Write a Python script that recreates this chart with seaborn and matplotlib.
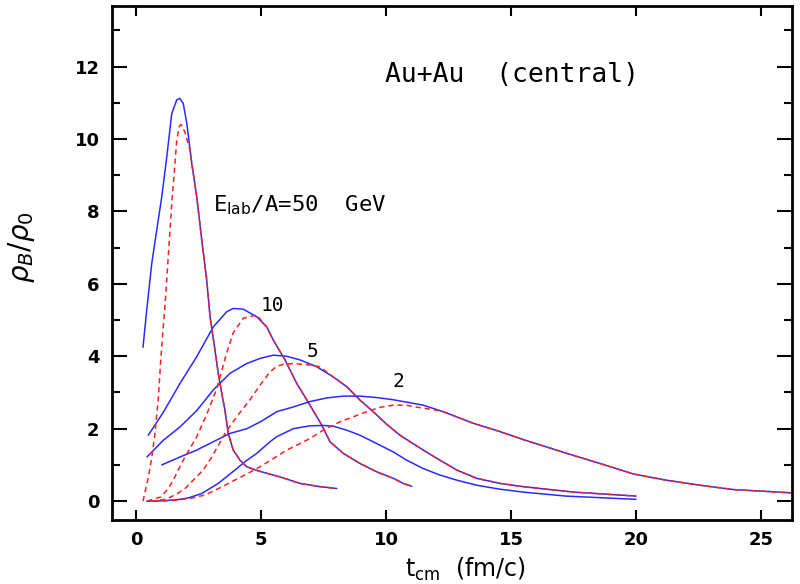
import matplotlib
matplotlib.use("Agg")
import matplotlib.pyplot as plt
import numpy as np
import pandas as pd
import seaborn as sns
from matplotlib.ticker import MultipleLocator

# solid (blue) curves: t_cm in fm/c, rho_B/rho_0
t_50 = [0.28, 0.43, 0.63, 0.83, 1.03, 1.23, 1.43, 1.63, 1.75, 1.89, 2.03, 2.23, 2.43,
        2.63, 2.83, 2.96, 3.16, 3.29, 3.43, 3.56, 3.69, 3.89, 4.16, 4.43, 4.83, 5.23,
        5.76, 6.56, 7.36, 8.03]
rho_50 = [4.25, 5.28, 6.56, 7.49, 8.4, 9.5, 10.7, 11.08, 11.12, 10.98, 10.44, 9.33, 8.4,
          7.21, 6.1, 5.1, 4.17, 3.53, 2.98, 2.5, 1.87, 1.41, 1.13, 0.95, 0.85, 0.77,
          0.67, 0.49, 0.40, 0.35]

t_10 = [0.49, 1.09, 1.76, 2.43, 3.09, 3.63, 3.89, 4.29, 4.83, 5.23, 5.49, 5.96, 6.43,
        6.83, 7.24, 7.43, 7.76, 8.29, 8.96, 9.63, 10.29, 10.69, 11.03]
rho_10 = [1.82, 2.45, 3.25, 3.99, 4.81, 5.23, 5.32, 5.3, 5.09, 4.81, 4.45, 3.9, 3.25,
          2.8, 2.32, 2.1, 1.64, 1.32, 1.04, 0.81, 0.63, 0.49, 0.41]

t_5 = [0.44, 1.09, 1.76, 2.43, 3.09, 3.76, 4.43, 4.96, 5.49, 6.03, 6.56, 7.23, 7.89,
       8.43, 8.96, 9.49, 10.03, 10.56, 11.49, 12.16, 12.83, 13.63, 14.56, 15.49, 17.5, 20.0]
rho_5 = [1.22, 1.68, 2.05, 2.5, 3.07, 3.53, 3.8, 3.94, 4.03, 4.0, 3.9, 3.71, 3.43,
         3.16, 2.79, 2.47, 2.12, 1.82, 1.41, 1.13, 0.86, 0.63, 0.49, 0.40, 0.25, 0.14]

t_2 = [1.03, 1.76, 2.43, 3.09, 3.76, 4.43, 5.0, 5.63, 6.29, 6.96, 7.63, 8.29, 8.96,
       9.63, 10.29, 11.49, 12.29, 13.49, 14.56, 15.49, 17.23, 18.56, 19.9, 21.2, 22.56,
       23.9, 26.2]
rho_2 = [1.0, 1.22, 1.41, 1.64, 1.87, 2.0, 2.2, 2.47, 2.6, 2.75, 2.85, 2.9, 2.9,
         2.86, 2.8, 2.65, 2.47, 2.15, 1.92, 1.7, 1.32, 1.04, 0.75, 0.58, 0.44, 0.32, 0.23]

t_low = [0.43, 1.09, 1.76, 2.09, 2.63, 3.29, 3.96, 4.36, 4.83, 5.36, 5.63, 6.29, 6.96,
         7.5, 7.89, 8.43, 8.96, 9.63, 10.29, 10.83, 11.49, 12.16, 12.83, 13.63, 14.56,
         15.49, 17.2, 20.0]
rho_low = [0.0, 0.01, 0.05, 0.09, 0.21, 0.49, 0.86, 1.09, 1.32, 1.64, 1.78, 2.0, 2.08,
           2.09, 2.07, 1.96, 1.82, 1.59, 1.36, 1.13, 0.9, 0.72, 0.58, 0.44, 0.33,
           0.25, 0.14, 0.05]

# dashed (red) curves, rising part up to where they join the solid ones
t_50_d = [0.28, 0.49, 0.63, 0.76, 0.83, 0.89, 0.99, 1.07, 1.16, 1.36, 1.45, 1.56, 1.63,
          1.73, 1.8, 1.95, 2.16]
rho_50_d = [0.0, 0.65, 1.2, 1.88, 2.4, 2.8, 3.9, 4.64, 5.4, 7.49, 8.4, 9.33, 9.97,
            10.34, 10.4, 10.2, 9.7]

t_10_d = [0.45, 1.0, 1.29, 1.49, 1.69, 1.96, 2.43, 2.83, 3.23, 3.63, 3.89, 4.29, 4.83, 5.23]
rho_10_d = [0.0, 0.12, 0.35, 0.58, 0.86, 1.22, 1.78, 2.4, 3.1, 4.1, 4.65, 5.05, 5.14, 4.81]

t_5_d = [0.6, 1.2, 1.63, 1.96, 2.29, 2.69, 3.03, 3.63, 4.16, 4.56, 4.96, 5.36, 5.63,
         5.9, 6.3, 6.96, 7.36]
rho_5_d = [0.0, 0.05, 0.2, 0.35, 0.58, 0.86, 1.22, 1.95, 2.45, 2.8, 3.2, 3.57, 3.72,
           3.78, 3.8, 3.76, 3.71]

t_2_d = [0.7, 1.5, 2.2, 2.76, 3.16, 3.56, 4.09, 4.49, 4.96, 5.5, 6.03, 6.56, 6.96,
         7.49, 8.16, 8.69, 9.23, 9.76, 10.29, 10.8, 11.36, 11.89, 12.29]
rho_2_d = [0.0, 0.02, 0.08, 0.17, 0.3, 0.44, 0.63, 0.77, 0.95, 1.18, 1.41, 1.59, 1.73,
           1.96, 2.19, 2.33, 2.47, 2.59, 2.65, 2.65, 2.58, 2.53, 2.47]

energy_labels = ["10", "5", "2"]


def dashed_with_tail(t_d, rho_d, t_s, rho_s):
    # dashed curve coincides with the solid one after joining it
    t_s = np.asarray(t_s)
    rho_s = np.asarray(rho_s)
    keep = t_s > t_d[-1]
    return pd.DataFrame({"t": list(t_d) + list(t_s[keep]),
                         "rho": list(rho_d) + list(rho_s[keep])})


sns.set_style("ticks")
plt.rcParams["font.family"] = ["DejaVu Sans"]
plt.rcParams["text.color"] = "black"
plt.rcParams["axes.labelcolor"] = "black"
plt.rcParams["xtick.color"] = "black"
plt.rcParams["ytick.color"] = "black"

fig = plt.figure(figsize=(8, 5.84), dpi=100)
ax = fig.add_axes([0.14, 0.1096, 0.85, 0.8801])

solid = [(t_50, rho_50), (t_10, rho_10), (t_5, rho_5), (t_2, rho_2), (t_low, rho_low)]
for t, rho in solid:
    sns.lineplot(x=t, y=rho, ax=ax, color="#2a2aff", lw=1.1,
                 estimator=None, sort=False)

dashed = [
    dashed_with_tail(t_50_d, rho_50_d, t_50, rho_50),
    dashed_with_tail(t_10_d, rho_10_d, t_10, rho_10),
    dashed_with_tail(t_5_d, rho_5_d, t_5, rho_5),
    dashed_with_tail(t_2_d, rho_2_d, t_2, rho_2),
]
for df in dashed:
    sns.lineplot(data=df, x="t", y="rho", ax=ax, color="#ff2020", lw=1.1,
                 dashes=False, linestyle=(0, (3.5, 2.5)), estimator=None, sort=False)

ax.set_xlim(-0.96, 26.24)
ax.set_ylim(-0.52, 13.67)
ax.xaxis.set_major_locator(MultipleLocator(5))
ax.yaxis.set_major_locator(MultipleLocator(2))
ax.yaxis.set_minor_locator(MultipleLocator(1))
ax.tick_params(axis="x", which="major", direction="in", top=True,
               length=7, width=1.5, labelsize=13, pad=8)
ax.tick_params(axis="y", which="major", direction="in", right=True,
               length=11, width=1.5, labelsize=13, pad=9)
ax.tick_params(axis="y", which="minor", direction="in", right=True, length=6, width=1.5)
for lab in ax.get_xticklabels() + ax.get_yticklabels():
    lab.set_fontweight("bold")
for side in ["left", "right", "top", "bottom"]:
    ax.spines[side].set_visible(True)
    ax.spines[side].set_linewidth(2)
    ax.spines[side].set_color("black")

ax.set_xlabel(r"t$_{\rm cm}$  (fm/c)", fontsize=17)
ax.set_ylabel(r"$\rho_B/\rho_0$", fontsize=20)
ax.xaxis.set_label_coords(0.52, -0.07)
ax.yaxis.set_label_coords(-0.11, 0.53)

ax.text(9.96, 11.77, "Au+Au  (central)", fontsize=19, family="DejaVu Sans Mono",
        va="center", ha="left")
ax.text(3.08, 8.18, r"E$_{\rm lab}$/A=50  GeV", fontsize=16, family="DejaVu Sans Mono",
        va="center", ha="left")
ax.text(5.44, 5.41, energy_labels[0], fontsize=14, family="DejaVu Sans Mono",
        ha="center", va="center")
ax.text(7.08, 4.12, energy_labels[1], fontsize=14, family="DejaVu Sans Mono",
        ha="center", va="center")
ax.text(10.48, 3.29, energy_labels[2], fontsize=14, family="DejaVu Sans Mono",
        ha="center", va="center")

fig.savefig("out.png", dpi=100)
